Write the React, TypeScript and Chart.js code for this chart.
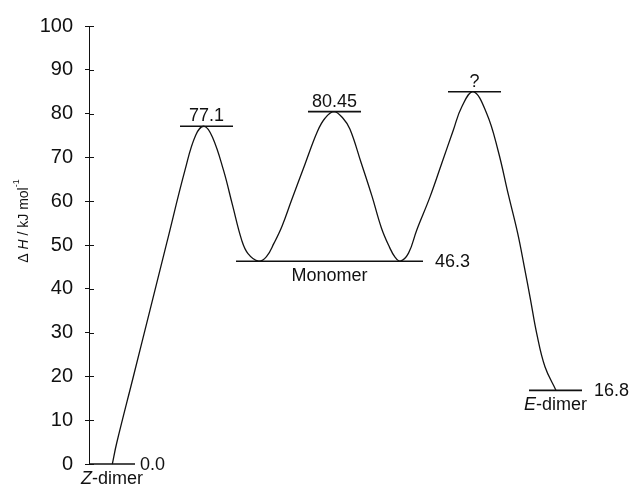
import { useEffect, useRef } from "react";
import { Chart, registerables } from "chart.js";

Chart.register(...registerables);

// Enthalpy profile along the reaction coordinate (arbitrary units, 0..100)
const pathX = [
  4.73, 5.62, 8.99, 12.37, 15.76, 19.47, 21.64, 23.39,
  25.05, 27.28, 29.11, 30.97, 32.25, 34.4,
  36.0, 37.53, 39.15, 41.08, 43.81, 46.35, 47.87, 49.7,
  51.52, 52.94, 55.17, 57.4, 59.33, 60.95, 62.07, 63.14,
  64.81, 66.47, 69.17, 71.54, 73.89, 75.6, 77.95,
  80.67, 82.96, 85.09, 86.96, 88.3, 89.57, 90.81, 92.49, 94.73,
];
const pathH = [
  0, 4.79, 19.92, 35.14, 50.42, 67.08, 75.06, 77.1,
  74.61, 67.08, 59.09, 51.11, 48.03, 46.3,
  47.34, 50.42, 54.3, 60.23, 68.45, 75.97, 78.94, 80.45,
  78.94, 76.43, 68.9, 61.15, 53.84, 49.51, 47.23, 46.3,
  48.14, 53.39, 60.99, 68.61, 76.2, 81.52, 85,
  80.01, 71.64, 61.37, 52.64, 45.01, 37.42, 29.82, 22.2, 16.8,
];

// Stationary points: energy levels drawn as short horizontal bars
const levelNames = ["Z-dimer", "TS1", "Monomer", "TS2", "TS3", "E-dimer"];
const levelH = [0, 77.1, 46.3, 80.45, 85, 16.8];
const levelFrom = [0, 18.46, 29.82, 44.42, 72.82, 89.25];
const levelTo = [9.33, 29.21, 67.75, 55.17, 83.57, 100];
const levelValueText = ["0.0", "77.1", "46.3", "80.45", "?", "16.8"];
// Species names printed under the minima (italic prefix + rest)
const speciesPrefix = ["Z", "", "", "", "", "E"];
const speciesRest = ["-dimer", "", "Monomer", "", "", "-dimer"];

const yTicks = [0, 10, 20, 30, 40, 50, 60, 70, 80, 90, 100];

const FONT = "'Liberation Sans', Arial, Helvetica, sans-serif";
const INK = "#111";

const annotate = {
  id: "annotate",
  afterDraw(chart: any) {
    const { ctx, scales } = chart;
    const xs = scales.x;
    const ys = scales.y;
    const left = chart.chartArea.left;

    ctx.save();
    ctx.strokeStyle = INK;
    ctx.lineWidth = 1;
    // inner half of the crossing tick marks
    ys.ticks.forEach((t: any) => {
      const py = Math.round(ys.getPixelForValue(t.value)) + 0.5;
      ctx.beginPath();
      ctx.moveTo(left, py);
      ctx.lineTo(left + 5, py);
      ctx.stroke();
    });

    ctx.fillStyle = INK;
    ctx.font = `18px ${FONT}`;
    levelNames.forEach((name, i) => {
      const x0 = xs.getPixelForValue(levelFrom[i]);
      const x1 = xs.getPixelForValue(levelTo[i]);
      const py = ys.getPixelForValue(levelH[i]);
      const isBarrier = name.startsWith("TS");
      if (isBarrier) {
        ctx.textAlign = "center";
        ctx.textBaseline = "alphabetic";
        ctx.fillText(levelValueText[i], (x0 + x1) / 2, py - 5);
      } else {
        const gap = name === "Z-dimer" ? 5 : 12;
        ctx.textAlign = "left";
        ctx.textBaseline = "middle";
        ctx.fillText(levelValueText[i], x1 + gap, py + 1);
        // species name below the level
        const pre = speciesPrefix[i];
        const rest = speciesRest[i];
        ctx.font = `italic 18px ${FONT}`;
        const wPre = ctx.measureText(pre).width;
        ctx.font = `18px ${FONT}`;
        const wRest = ctx.measureText(rest).width;
        const start = (x0 + x1) / 2 - (wPre + wRest) / 2;
        ctx.textBaseline = "top";
        ctx.font = `italic 18px ${FONT}`;
        ctx.fillText(pre, start, py + 6);
        ctx.font = `18px ${FONT}`;
        ctx.fillText(rest, start + wPre, py + 6);
      }
    });

    // y-axis title: ΔH / kJ mol⁻¹ (rotated)
    ctx.translate(24, 221);
    ctx.rotate(-Math.PI / 2);
    ctx.textBaseline = "middle";
    ctx.textAlign = "left";
    const parts: [string, string, number][] = [
      ["Δ ", `14px ${FONT}`, 0],
      ["H", `italic 14px ${FONT}`, 0],
      [" / kJ mol", `14px ${FONT}`, 0],
      ["-1", `9px ${FONT}`, -7],
    ];
    let total = 0;
    parts.forEach(([s, f]) => {
      ctx.font = f;
      total += ctx.measureText(s).width;
    });
    let cx = -total / 2;
    parts.forEach(([s, f, dy]) => {
      ctx.font = f;
      ctx.fillText(s, cx, dy);
      cx += ctx.measureText(s).width;
    });
    ctx.restore();
  },
};

export default function App() {
  const ref = useRef<HTMLCanvasElement | null>(null);

  useEffect(() => {
    if (!ref.current) return;
    const datasets: any[] = [
      {
        data: pathX.map((x, i) => ({ x, y: pathH[i] })),
        borderColor: INK,
        borderWidth: 1.3,
        pointRadius: 0,
        tension: 0.4,
        fill: false,
        clip: false,
      },
      ...levelNames.map((_, i) => ({
        data: [
          { x: levelFrom[i], y: levelH[i] },
          { x: levelTo[i], y: levelH[i] },
        ],
        borderColor: INK,
        borderWidth: 1.6,
        pointRadius: 0,
        tension: 0,
        fill: false,
        clip: false,
      })),
    ];

    const chart = new Chart(ref.current, {
      type: "line",
      data: { datasets },
      plugins: [annotate],
      options: {
        animation: false,
        responsive: false,
        devicePixelRatio: 1,
        layout: { padding: { left: 0, top: 26, right: 50, bottom: 24 } },
        plugins: { legend: { display: false }, tooltip: { enabled: false } },
        scales: {
          x: { type: "linear", min: 0, max: 100, display: false },
          y: {
            type: "linear",
            min: 0,
            max: 100,
            afterFit: (s: any) => {
              s.width = 89;
            },
            afterBuildTicks: (s: any) => {
              s.ticks = yTicks.map((v) => ({ value: v }));
            },
            border: { display: true, color: INK, width: 1 },
            grid: {
              display: true,
              drawOnChartArea: false,
              drawTicks: true,
              tickLength: 4,
              color: INK,
              lineWidth: 1,
            },
            ticks: {
              padding: 12,
              color: INK,
              font: { family: FONT, size: 20 },
            },
          },
        },
      },
    });
    return () => chart.destroy();
  }, []);

  return (
    <div style={{ position: "absolute", left: 0, top: 0, width: 632, height: 488, background: "#fff" }}>
      <canvas ref={ref} width={632} height={488} style={{ display: "block" }} />
    </div>
  );
}
